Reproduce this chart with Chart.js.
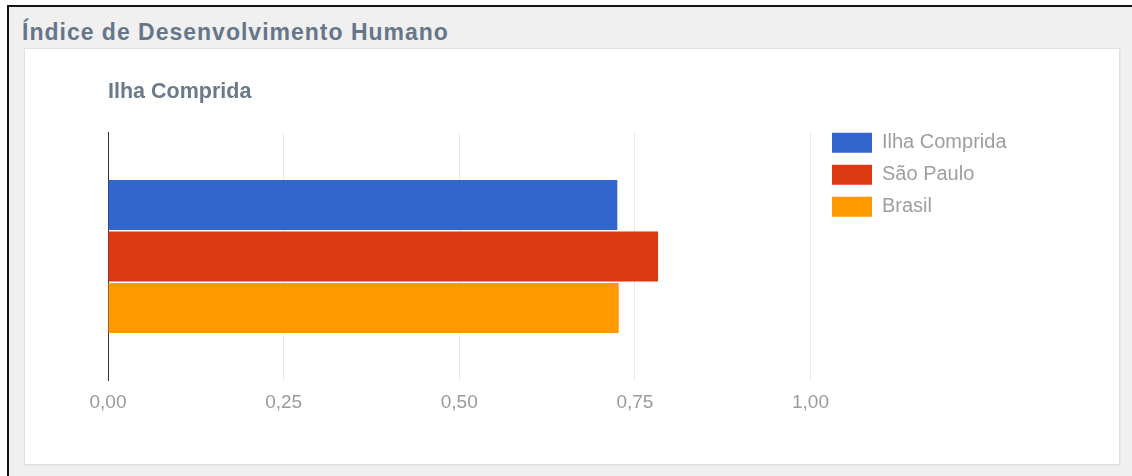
<!DOCTYPE html>
<html>
<head>
<meta charset="utf-8">
<script src="https://cdn.jsdelivr.net/npm/chart.js@4/dist/chart.umd.min.js"></script>
<style>
  html, body { margin: 0; padding: 0; background: #fff; }
  body { width: 1132px; height: 476px; position: relative; overflow: hidden; font-family: "Liberation Sans", Arial, sans-serif; }
  .frame { position: absolute; left: 7px; top: 5px; right: 0; bottom: 0; background: #f0f0f0;
           border-left: 2px solid #141414; border-top: 2px solid #141414; }
  .page-title { position: absolute; left: 22px; top: 19px; font-size: 23px; line-height: 26px; font-weight: bold;
                letter-spacing: 1px; color: #66768a; white-space: nowrap; }
  .panel { position: absolute; left: 24px; top: 48px; width: 1096px; height: 417px; box-sizing: border-box;
           background: #fff; border: 1px solid #e0e0e0; box-shadow: 1px 1px 0 #e8e8e8; }
  .chart-box { position: absolute; left: 24px; top: 48px; width: 1096px; height: 417px; }
</style>
</head>
<body>
<div class="frame"></div>
<div class="page-title">Índice de Desenvolvimento Humano</div>
<div class="panel"></div>
<div class="chart-box"><canvas id="idhChart" width="1096" height="417"></canvas></div>

<script>
const categories = ['Ilha Comprida'];
const seriesNames = ['Ilha Comprida', 'São Paulo', 'Brasil'];
const seriesValues = [[0.725], [0.783], [0.727]];
const seriesColors = ['#3366cc', '#dc3912', '#ff9900'];
const xTickLabels = ['0,00', '0,25', '0,50', '0,75', '1,00'];

// move the legend next to the plot, like the original
const legendSpot = {
    id: 'legendSpot',
    afterLayout(chart) {
        const lg = chart.legend;
        const area = chart.chartArea;
        lg.left = area.right + 9.5;
        lg.right = lg.left + lg.width;
        lg.top = area.top - 12;
        lg.bottom = lg.top + lg.height;
    }
};

const ctx = document.getElementById('idhChart');

new Chart(ctx, {
    type: 'bar',
    data: {
        labels: categories,
        datasets: seriesNames.map((name, i) => ({
            label: name,
            data: seriesValues[i],
            backgroundColor: seriesColors[i],
            borderWidth: 0,
            categoryPercentage: 0.624,
            barPercentage: 0.97
        }))
    },
    options: {
        indexAxis: 'y',
        responsive: false,
        devicePixelRatio: 1,
        animation: false,
        layout: {
            padding: { left: 84, right: 113, top: 0, bottom: 40 }
        },
        scales: {
            x: {
                min: 0,
                max: 1,
                ticks: {
                    stepSize: 0.25,
                    padding: 11,
                    color: '#9a9a9a',
                    font: { family: '"Liberation Sans", Arial, sans-serif', size: 19 },
                    callback: (value, index) => xTickLabels[index]
                },
                grid: { color: '#e8e8e8', drawTicks: false },
                border: { display: false }
            },
            y: {
                ticks: { display: false },
                grid: { color: 'rgba(0,0,0,0)', drawTicks: false },
                border: { display: true, color: '#333', width: 1 }
            }
        },
        plugins: {
            title: {
                display: true,
                text: 'Ilha Comprida',
                align: 'start',
                color: '#6b7a8a',
                font: { family: '"Liberation Sans", Arial, sans-serif', size: 21.5, weight: 'bold' },
                padding: { top: 31, bottom: 28 }
            },
            legend: {
                position: 'right',
                align: 'start',
                labels: {
                    boxWidth: 40,
                    boxHeight: 20,
                    padding: 12,
                    color: '#9e9e9e',
                    font: { family: '"Liberation Sans", Arial, sans-serif', size: 20 }
                }
            },
            tooltip: { enabled: false }
        }
    },
    plugins: [legendSpot]
});
</script>
</body>
</html>
